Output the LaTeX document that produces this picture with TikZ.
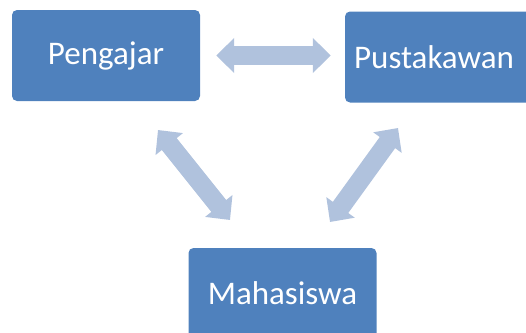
\documentclass[tikz,border=0pt]{standalone}
\usepackage{fontspec}
\setmainfont{Carlito}
\usepackage{tikz}
\usetikzlibrary{arrows.meta}
\definecolor{boxblue}{HTML}{4F81BD}
\definecolor{linkblue}{HTML}{B0C2DD}

\begin{document}
\begin{tikzpicture}[x=1pt,y=-1pt,
    % styles
    role box/.style={fill=boxblue,rounded corners=5pt,inner sep=0pt,
      minimum width=188pt,minimum height=91pt,text=white,
      font=\fontsize{33}{39}\selectfont},
    link/.style={draw=linkblue,line width=19pt,{Triangle[length=18pt,width=34pt]}-{Triangle[length=18pt,width=34pt]}}]

  \useasboundingbox (0,0) rectangle (526,332);

  % boxes
  \node [role box] (pengajar) at (106,55.5) {Pengajar};
  \node [role box] (pustakawan) at (439,57) {Pustakawan\hspace*{10pt}};
  \node [role box] (mahasiswa) at (282.5,293.5) {Mahasiswa};

  % arrow ends
  \coordinate (pengajar out) at (158,130);
  \coordinate (mahasiswa left) at (230,220);
  \coordinate (pustakawan out) at (398,128);
  \coordinate (mahasiswa right) at (330,222);

  % arrows
  \draw [link,shorten <=16pt,shorten >=14pt] (pengajar.east) -- (pengajar.east -| pustakawan.west);
  \draw [link] (pengajar out) -- (mahasiswa left);
  \draw [link] (pustakawan out) -- (mahasiswa right);
\end{tikzpicture}
\end{document}
